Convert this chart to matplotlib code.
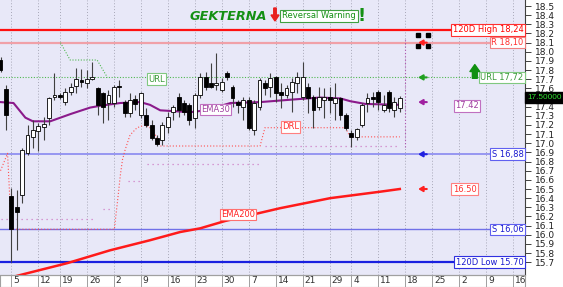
import matplotlib
matplotlib.use('Agg')
import matplotlib.pyplot as plt
import matplotlib.transforms as mtransforms
from matplotlib.patches import Rectangle, FancyArrow

# daily candles, 1 Aug - 15 Nov 2019 (x = trading day index)
opens = [17.91, 17.59, 16.42, 16.30, 16.43, 16.89, 17.07, 17.13, 17.18, 17.28,
         17.51, 17.53, 17.45, 17.56, 17.63, 17.69, 17.66, 17.70, 17.60, 17.55,
         17.44, 17.44, 17.62, 17.45, 17.33, 17.48, 17.31, 17.31, 17.20, 17.06,
         17.04, 17.18, 17.34, 17.51, 17.44, 17.42, 17.28, 17.53, 17.72, 17.66,
         17.64, 17.58, 17.77, 17.62, 17.45, 17.40, 17.47, 17.14, 17.40, 17.66,
         17.62, 17.72, 17.56, 17.53, 17.56, 17.66, 17.51, 17.62, 17.51, 17.40,
         17.47, 17.51, 17.44, 17.50, 17.31, 17.11, 17.07, 17.20, 17.44, 17.51,
         17.56, 17.36, 17.56, 17.36, 17.39]
highs = [17.94, 17.64, 16.51, 16.49, 16.95, 17.20, 17.25, 17.22, 17.29, 17.51,
         17.77, 17.55, 17.60, 17.66, 17.82, 17.81, 17.80, 17.89, 17.61, 17.56,
         17.58, 17.64, 17.69, 17.47, 17.55, 17.53, 17.56, 17.39, 17.25, 17.09,
         17.23, 17.34, 17.42, 17.55, 17.47, 17.44, 17.55, 17.77, 17.78, 17.88,
         17.99, 17.71, 17.79, 17.64, 17.47, 17.51, 17.51, 17.47, 17.71, 17.69,
         17.77, 17.73, 17.66, 17.64, 17.71, 17.78, 17.89, 17.66, 17.53, 17.61,
         17.60, 17.61, 17.66, 17.51, 17.33, 17.14, 17.17, 17.44, 17.55, 17.56,
         17.58, 17.53, 17.58, 17.51, 17.52]
lows = [17.78, 17.14, 15.70, 15.83, 16.35, 16.87, 16.95, 16.91, 17.04, 17.20,
        17.47, 17.48, 17.42, 17.53, 17.55, 17.61, 17.60, 17.69, 17.31, 17.22,
        17.25, 17.40, 17.51, 17.29, 17.29, 17.36, 17.28, 17.18, 17.04, 16.97,
        16.98, 17.11, 17.25, 17.29, 17.31, 17.20, 17.17, 17.50, 17.58, 17.60,
        17.58, 17.56, 17.69, 17.40, 17.33, 17.25, 17.14, 17.09, 17.36, 17.53,
        17.51, 17.45, 17.38, 17.50, 17.34, 17.55, 17.47, 17.33, 17.17, 17.36,
        17.28, 17.33, 17.25, 17.25, 17.14, 16.96, 17.04, 17.18, 17.34, 17.40,
        17.36, 17.34, 17.34, 17.29, 17.34]
closes = [17.80, 17.31, 16.06, 16.25, 16.93, 17.09, 17.14, 17.19, 17.21, 17.50,
          17.53, 17.51, 17.56, 17.62, 17.70, 17.67, 17.70, 17.72, 17.42, 17.40,
          17.53, 17.62, 17.61, 17.33, 17.47, 17.43, 17.55, 17.20, 17.06, 16.99,
          17.20, 17.29, 17.40, 17.36, 17.34, 17.25, 17.53, 17.72, 17.62, 17.62,
          17.66, 17.67, 17.72, 17.50, 17.42, 17.47, 17.17, 17.44, 17.69, 17.60,
          17.71, 17.55, 17.53, 17.60, 17.67, 17.72, 17.72, 17.50, 17.36, 17.51,
          17.51, 17.47, 17.50, 17.31, 17.17, 17.07, 17.16, 17.42, 17.50, 17.48,
          17.45, 17.42, 17.39, 17.45, 17.50]

# moving averages (index, value)
ema30_x = [0, 2.4, 4.6, 6, 9.2, 13, 16.6, 18.5, 22.2, 25.9, 27.7, 29.6, 35.2,
           38, 42.6, 48.1, 54.6, 59.2, 63, 64.8, 67.6, 74]
ema30_y = [17.45, 17.44, 17.28, 17.24, 17.24, 17.32, 17.39, 17.41, 17.44, 17.45,
           17.42, 17.36, 17.34, 17.36, 17.44, 17.45, 17.48, 17.50, 17.49, 17.46,
           17.43, 17.42]
ema200_x = [3, 5, 12.4, 20.3, 27.7, 33.3, 37, 41.6, 51.8, 61.1, 70.3, 74]
ema200_y = [15.55, 15.58, 15.69, 15.83, 15.94, 16.03, 16.07, 16.15, 16.29,
            16.40, 16.47, 16.50]

# trailing levels
drl_x = [0, 1.3, 2, 21.1, 21.4, 21.8, 22.2, 22.6, 23.1, 24.0, 25.3, 26.8, 27.7,
         28.7, 29.6, 48.1, 49, 63.9, 64.8, 74]
drl_y = [16.70, 16.89, 16.06, 16.06, 16.22, 16.43, 16.65, 16.82, 16.93, 17.09,
         17.17, 17.20, 17.17, 17.09, 16.97, 16.97, 17.17, 17.17, 17.07, 17.07]
url_x = [11.1, 12.9, 17.9, 19.8]
url_y = [18.10, 17.91, 17.91, 17.72]
lilac_lv = [16.17, 16.28, 16.59, 16.77, 16.97]
lilac_x0 = [0, 19.0, 23.7, 27.2, 49]
lilac_x1 = [17.6, 20.2, 25.9, 48.1, 74]

# tick labels (Mondays)
tick_idx = [2, 7, 11, 16, 21, 26, 31, 36, 41, 46, 51, 56, 61, 65, 70, 75, 80, 85, 90, 95]
tick_lbl = ['5', '12', '19', '26', '2', '9', '16', '23', '30', '7', '14', '21',
            '29', '4', '11', '18', '25', '2', '9', '16']

hi120, res, url, sup1, sup2, lo120 = 18.24, 18.10, 17.72, 16.88, 16.06, 15.70
last_px, ema30_last, ema200_last = 17.50, 17.42, 16.50

W, H = 563, 287
fig = plt.figure(figsize=(W / 100, H / 100), dpi=100)
fig.patch.set_facecolor('white')
ax = fig.add_axes([0, 12 / H, 525 / W, 275 / H])
ax.set_facecolor('#e8e8f8')
ax.set_xlim(-0.1, 97.2)
ax.set_ylim(15.56, 18.566)


def px(x, y):
    return x / W, 1 - y / H


# vertical grid
ax.set_xticks(tick_idx)
ax.set_xticklabels(tick_lbl)
ax.grid(axis='x', ls=(0, (1, 2)), color='#a8a8b8', lw=0.7)
ax.set_axisbelow(True)

# horizontal levels
ax.axhline(hi120, color='#ff1010', lw=1.6, zorder=2)
ax.axhline(res, color='#f0a0a8', lw=1.6, zorder=2)
ax.axhline(url, color='#50b850', lw=0.8, ls=(0, (1, 1.5)), zorder=2)
ax.axhline(sup1, color='#8080f0', lw=1.1, zorder=2)
ax.axhline(sup2, color='#7070e8', lw=1.0, zorder=2)
ax.axhline(lo120, color='#1a20e0', lw=1.6, zorder=2)

# trailing lines
ax.plot(url_x, url_y, color='#50b850', lw=0.8, ls=(0, (1, 1.5)), zorder=2)
ax.plot(drl_x, drl_y, color='#ff5050', lw=0.8, ls=(0, (1, 1.8)), zorder=2)
ax.hlines(lilac_lv, lilac_x0, lilac_x1, color='#d080c8', lw=0.9, ls=(0, (1, 3)), zorder=2)
ax.vlines(75, 16.96, 18.14, color='#b050b0', lw=0.8, ls=(0, (1, 2)), zorder=2)

# averages
ax.plot(ema200_x, ema200_y, color='#ff1a1a', lw=1.8, zorder=3)
ax.plot(ema30_x, ema30_y, color='#8b1a8b', lw=1.5, zorder=3)

# candles
idx = list(range(len(opens)))
ax.vlines(idx, lows, highs, color='#404040', lw=0.8, zorder=4)
bottoms = [min(o, c) for o, c in zip(opens, closes)]
heights = [max(abs(c - o), 0.012) for o, c in zip(opens, closes)]
colors = ['white' if c >= o else 'black' for o, c in zip(opens, closes)]
ax.bar(idx, heights, bottom=bottoms, width=0.72, color=colors, edgecolor='black',
       linewidth=0.6, zorder=5)


# in-chart labels
def tag(x, y, s, tc, ec, ha='center', trans=None, fs=6):
    ax.text(x, y, s, color=tc, fontsize=fs, ha=ha, va='center', zorder=6,
            family='DejaVu Sans', transform=trans or ax.transData,
            bbox=dict(boxstyle='square,pad=0.15', fc='white', ec=ec, lw=0.8))


tag(28.9, 17.70, 'URL', '#3a9a3a', '#80c880')
tag(39.8, 17.37, 'EMA30', '#a040a0', '#c070c0')
tag(53.7, 17.18, 'DRL', '#ff3030', '#ff8080')
tag(44.0, 16.22, 'EMA200', '#ff2020', '#ff7070')
tag(86.5, 17.41, f'{ema30_last:.2f}', '#a040a0', '#c070c0')
tag(86.0, 16.50, f'{ema200_last:.2f}', '#ff3030', '#ff8080')

rtrans = mtransforms.blended_transform_factory(ax.transAxes, ax.transData)
tag(0.997, hi120, '120D High 18,24', '#ff0000', '#ff3030', 'right', rtrans)
tag(0.997, res, 'R 18,10', '#ff3030', '#f08080', 'right', rtrans)
tag(0.997, url, 'URL 17,72', '#3a9a3a', '#80c880', 'right', rtrans)
tag(0.997, sup1, 'S 16,88', '#1a1ad0', '#6060f0', 'right', rtrans)
tag(0.997, sup2, 'S 16,06', '#1a1ad0', '#6060f0', 'right', rtrans)
tag(0.997, lo120, '120D Low 15.70', '#1a1ad0', '#3030e0', 'right', rtrans)
ax.text(1.004, last_px, f'{last_px:.5f}', color='#30e030', fontsize=5.9, ha='left',
        va='center', transform=rtrans, clip_on=False, zorder=7, family='Liberation Sans',
        bbox=dict(boxstyle='square,pad=0.2', fc='black', ec='black'))

# arrows column
for lv, c in [(res, '#ff2020'), (url, '#20a020'), (17.45, '#a020a0'),
              (sup1, '#2020e0'), (ema200_last, '#ff2020')]:
    ax.annotate('', xy=(77.4, lv), xytext=(79.0, lv),
                arrowprops=dict(arrowstyle='-|>,head_length=0.5,head_width=0.3',
                                mutation_scale=5, color=c, lw=1.5, shrinkA=0, shrinkB=0),
                zorder=6)
ax.annotate('', xy=(87.9, 17.86), xytext=(87.9, 17.71),
            arrowprops=dict(arrowstyle='simple,head_length=0.5,head_width=0.7,tail_width=0.35',
                            color='#109010', shrinkA=0, shrinkB=0), zorder=6)
ax.plot([77.4, 79.3, 77.4, 79.3], [18.18, 18.18, 18.06, 18.06], ls='none', marker='s',
        ms=3, color='black', zorder=7)

# title row
fig.text(*px(190, 16), 'GEKTERNA', color='#149014', fontsize=9.3, fontweight='bold',
         style='italic', ha='left', va='center')
fig.patches.append(FancyArrow(275 / W, 1 - 8 / H, 0, -13 / H, width=2.5 / W,
                              head_width=8 / W, head_length=6 / H, color='#e82020',
                              transform=fig.transFigure, figure=fig,
                              length_includes_head=True))
fig.text(*px(319, 16), 'Reversal Warning', color='#149014', fontsize=6, ha='center',
         va='center', bbox=dict(boxstyle='square,pad=0.2', fc='white', ec='#40a040', lw=0.8))
fig.text(*px(362, 16), '!', color='#149014', fontsize=13, fontweight='bold',
         ha='center', va='center')

# axes cosmetics
for s in ['left', 'top']:
    ax.spines[s].set_visible(False)
ax.spines['right'].set_color('#404040')
ax.spines['bottom'].set_color('#909090')
ax.yaxis.tick_right()
yt = [round(15.7 + 0.1 * k, 1) for k in range(29)]
ax.set_yticks(yt)
# the 17.5 label sits under the last-price box
ax.set_yticklabels(['' if abs(v - last_px) < 0.01 else f'{v:.1f}' for v in yt])
ax.tick_params(axis='y', length=4, width=0.7, color='#404040', labelsize=6.5,
               pad=3, labelcolor='#202020')
ax.tick_params(axis='x', length=8.6, width=0.7, color='#a0a0a0', labelsize=6.5,
               pad=-7.8, labelcolor='#303030')
off = mtransforms.ScaledTranslation(2 / 100, 0, fig.dpi_scale_trans)
for lbl in ax.get_xticklabels():
    lbl.set_horizontalalignment('left')
    lbl.set_transform(lbl.get_transform() + off)

fig.patches.append(Rectangle((0, 0.5 / H), 525 / W, 11.5 / H, transform=fig.transFigure,
                             fc='none', ec='#a0a0a0', lw=0.8, figure=fig))

fig.savefig('out.png', dpi=100, facecolor='white')
